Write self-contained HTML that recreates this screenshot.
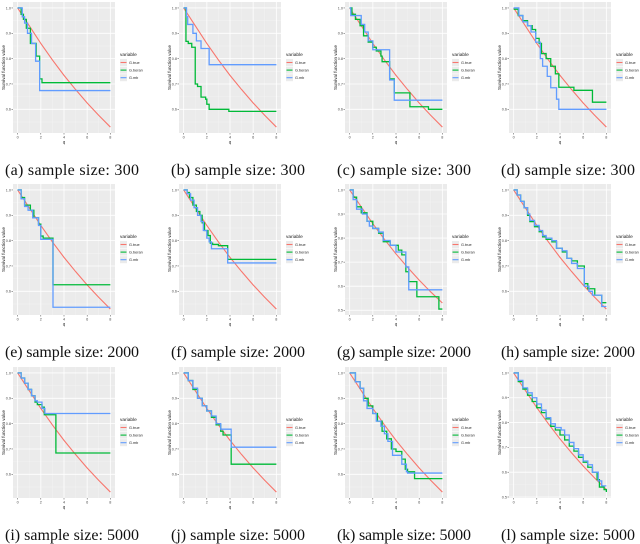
<!DOCTYPE html>
<html><head><meta charset="utf-8"><style>
html,body{margin:0;padding:0;background:#fff;}
svg{display:block;}
</style></head><body>
<svg id="fig" width="640" height="544" viewBox="0 0 640 544" xmlns="http://www.w3.org/2000/svg"></svg>
<script>
const panelLetters=['a','b','c','d','e','f','g','h','i','j','k','l'];
const sampleSizes=[300,300,300,300,2000,2000,2000,2000,5000,5000,5000,5000];
const trueTimes=[0,1,2,3,4,5,6,7,8];
const trueValues=[1.0,0.93,0.86,0.795,0.734,0.678,0.625,0.576,0.53];
const xTicks=[0,2,4,6,8];
const yTicks=[0.5,0.6,0.7,0.8,0.9,1.0];
const legendLabels=['G.true','G.beran','G.mb'];

const beranA=[[0,1],[0.3,0.975],[0.5,0.955],[0.75,0.92],[1.1,0.86],[1.6,0.81],[1.9,0.72],[2.1,0.705]];
const mbA=[[0,1],[0.4,0.965],[0.6,0.94],[0.85,0.9],[1.2,0.86],[1.55,0.79],[1.9,0.674]];
const beranB=[[0,1],[0.2,0.868],[0.4,0.86],[0.7,0.845],[1.0,0.7],[1.2,0.69],[1.5,0.648],[1.9,0.64],[2.0,0.62],[2.2,0.6],[3.9,0.592]];
const mbB=[[0,1],[0.25,0.965],[0.35,0.935],[0.8,0.9],[1.1,0.87],[1.5,0.84],[2.2,0.776]];
const beranC=[[0,1],[0.2,0.975],[0.5,0.955],[0.9,0.93],[1.2,0.89],[1.6,0.865],[2.0,0.845],[2.3,0.83],[2.7,0.81],[2.8,0.788],[3.45,0.72],[3.85,0.665],[5.2,0.61],[6.8,0.6]];
const mbC=[[0,1],[0.1,0.97],[1.0,0.935],[1.3,0.905],[1.6,0.87],[2.0,0.835],[3.45,0.716],[3.85,0.636]];
const beranD=[[0,0.995],[0.4,0.97],[0.8,0.95],[1.2,0.93],[1.6,0.915],[1.9,0.88],[2.2,0.86],[2.4,0.82],[2.8,0.8],[3.2,0.77],[3.6,0.74],[3.9,0.687],[5.2,0.675],[6.8,0.628]];
const mbD=[[0,1],[0.45,0.97],[0.8,0.945],[1.2,0.93],[1.5,0.905],[1.9,0.865],[2.3,0.8],[2.5,0.77],[2.9,0.73],[3.2,0.685],[3.7,0.64],[3.9,0.6]];
const beranE=[[0,1],[0.3,0.97],[0.6,0.94],[1.1,0.92],[1.4,0.89],[1.8,0.865],[2.0,0.818],[2.2,0.81],[3.05,0.626]];
const mbE=[[0,1],[0.3,0.965],[0.6,0.935],[0.9,0.92],[1.3,0.89],[1.8,0.86],[2.0,0.805],[3.05,0.537]];
const beranF=[[0,1],[0.3,0.99],[0.5,0.97],[0.8,0.94],[1.1,0.915],[1.4,0.9],[1.6,0.87],[1.8,0.84],[2.1,0.82],[2.3,0.79],[2.5,0.785],[3.0,0.78],[3.8,0.726]];
const mbF=[[0,1],[0.3,0.985],[0.6,0.96],[0.9,0.93],[1.2,0.9],[1.5,0.875],[1.7,0.84],[2.0,0.81],[2.2,0.795],[2.4,0.768],[3.8,0.712]];
const beranG=[[0,1],[0.3,0.97],[0.6,0.93],[1.0,0.905],[1.5,0.87],[2.0,0.84],[2.5,0.82],[2.9,0.785],[3.5,0.77],[4.2,0.75],[4.5,0.73],[4.85,0.66],[5.1,0.619],[5.8,0.556],[7.7,0.505]];
const mbG=[[0,1],[0.3,0.96],[0.6,0.92],[1.1,0.9],[1.5,0.87],[1.7,0.85],[2.0,0.84],[2.5,0.825],[2.9,0.79],[3.5,0.77],[4.0,0.742],[4.85,0.68],[5.1,0.585]];
const beranH=[[0,1],[0.3,0.98],[0.6,0.955],[0.9,0.93],[1.2,0.9],[1.4,0.875],[1.8,0.855],[2.2,0.835],[2.5,0.815],[2.8,0.805],[3.3,0.795],[3.7,0.77],[4.2,0.755],[4.6,0.73],[5.0,0.72],[5.5,0.7],[6.1,0.63],[6.4,0.61],[7.0,0.585],[7.6,0.555]];
const mbH=[[0,1],[0.3,0.98],[0.6,0.955],[0.9,0.93],[1.2,0.905],[1.4,0.88],[1.8,0.86],[2.2,0.84],[2.5,0.82],[2.8,0.81],[3.3,0.8],[3.7,0.77],[4.2,0.76],[4.6,0.73],[5.0,0.71],[5.5,0.69],[6.1,0.62],[6.5,0.6],[6.8,0.585],[7.6,0.54]];
const beranI=[[0,1],[0.3,0.98],[0.6,0.96],[0.9,0.935],[1.2,0.91],[1.5,0.885],[1.7,0.875],[2.1,0.865],[2.3,0.835],[3.3,0.684]];
const mbI=[[0,1],[0.3,0.98],[0.6,0.96],[0.9,0.935],[1.2,0.91],[1.5,0.89],[1.7,0.885],[2.1,0.86],[2.35,0.84]];
const beranJ=[[0,1],[0.4,0.97],[0.8,0.935],[1.2,0.9],[1.6,0.87],[2.0,0.85],[2.4,0.825],[2.8,0.795],[3.2,0.77],[3.4,0.755],[4.1,0.64]];
const mbJ=[[0,1],[0.4,0.97],[0.8,0.94],[1.2,0.9],[1.6,0.87],[2.0,0.85],[2.4,0.83],[2.8,0.8],[3.2,0.778],[4.1,0.707]];
const beranK=[[0,1],[0.5,0.965],[0.9,0.94],[1.2,0.9],[1.6,0.87],[2.0,0.84],[2.4,0.81],[2.8,0.77],[3.2,0.74],[3.6,0.7],[4.0,0.69],[4.5,0.66],[4.8,0.62],[5.0,0.61],[5.6,0.583]];
const mbK=[[0,1],[0.5,0.965],[0.9,0.94],[1.2,0.89],[1.5,0.86],[2.0,0.84],[2.3,0.81],[2.7,0.79],[3.0,0.76],[3.3,0.73],[3.7,0.675],[4.5,0.64],[4.9,0.61],[5.0,0.605]];
const beranL=[[0,1],[0.4,0.965],[0.8,0.935],[1.2,0.91],[1.6,0.885],[2.0,0.86],[2.4,0.84],[2.8,0.815],[3.2,0.785],[3.6,0.77],[4.0,0.75],[4.4,0.73],[4.8,0.705],[5.2,0.685],[5.6,0.66],[6.0,0.64],[6.4,0.62],[6.8,0.6],[7.2,0.57],[7.4,0.54],[7.8,0.53],[8.0,0.52]];
const mbL=[[0,1],[0.4,0.97],[0.8,0.94],[1.2,0.92],[1.6,0.9],[2.0,0.875],[2.4,0.85],[2.8,0.82],[3.2,0.795],[3.6,0.78],[4.1,0.77],[4.4,0.75],[4.8,0.72],[5.2,0.695],[5.6,0.67],[6.0,0.645],[6.4,0.63],[6.8,0.6],[7.3,0.565],[7.6,0.545]];
const beranSeries=[beranA,beranB,beranC,beranD,beranE,beranF,beranG,beranH,beranI,beranJ,beranK,beranL];
const mbSeries=[mbA,mbB,mbC,mbD,mbE,mbF,mbG,mbH,mbI,mbJ,mbK,mbL];

const NS='http://www.w3.org/2000/svg';
const svg=document.getElementById('fig');
const colX=[0,166,332,496], rowY=[0,182,365];
const RED='#F8766D', GREEN='#00BA38', BLUE='#619CFF';
function mk(tag,attrs,parent){const e=document.createElementNS(NS,tag);for(const k in attrs)e.setAttribute(k,attrs[k]);(parent||svg).appendChild(e);return e;}

panelLetters.forEach((letter,i)=>{
  const ox=colX[i%4], oy=rowY[Math.floor(i/4)];
  const g=mk('g',{});
  
  
  const beran=beranSeries[i], mb=mbSeries[i];
  let vals=trueValues.concat(beran.map(p=>p[1]),mb.map(p=>p[1]));
  const vmin=Math.min(...vals), vmax=Math.max(...vals), span=vmax-vmin;
  const lo=vmin-0.05*span, hi=vmax+0.05*span;
  const L=ox+13, R=ox+115, T=oy+2, B=oy+133;
  const xs=t=>L+(t+0.4)/8.8*(R-L);
  const ys=v=>T+(hi-v)/(hi-lo)*(B-T);
  const bg=mk('rect',{x:L,y:T,width:R-L,height:B-T,fill:'#EBEBEB'},g);
  
  
  // minor grid
  for(let t=1;t<8;t+=2) mk('line',{x1:xs(t),x2:xs(t),y1:T,y2:B,stroke:'#F5F5F5','stroke-width':0.4},g);
  for(let v=0.45;v<=1.05;v+=0.1){ if(v>lo&&v<hi) mk('line',{x1:L,x2:R,y1:ys(v),y2:ys(v),stroke:'#F5F5F5','stroke-width':0.4},g);}
  // major grid + ticks
  xTicks.forEach(t=>{
    mk('line',{x1:xs(t),x2:xs(t),y1:T,y2:B,stroke:'#fff','stroke-width':0.8},g);
    mk('line',{x1:xs(t),x2:xs(t),y1:B,y2:B+1.5,stroke:'#444','stroke-width':0.5},g);
    const tl=mk('text',{x:xs(t),y:B+5.5,'font-size':3.8,'text-anchor':'middle',fill:'#4d4d4d','font-family':'Liberation Sans, sans-serif'},g);
    tl.textContent=t;
    
    
  });
  yTicks.forEach(v=>{
    if(v<lo||v>hi) return;
    mk('line',{x1:L,x2:R,y1:ys(v),y2:ys(v),stroke:'#fff','stroke-width':0.8},g);
    mk('line',{x1:L-1.5,x2:L,y1:ys(v),y2:ys(v),stroke:'#444','stroke-width':0.5},g);
    const tl=mk('text',{x:L-2,y:ys(v)+1.3,'font-size':3.8,'text-anchor':'end',fill:'#4d4d4d','font-family':'Liberation Sans, sans-serif'},g);
    tl.textContent=v.toFixed(1);
    
    
  });
  const xt=mk('text',{x:(L+R)/2,y:B+10.5,'font-size':4.5,'text-anchor':'middle',fill:'#222','font-family':'Liberation Sans, sans-serif'},g);
  xt.textContent='q';
  
  
  const yt=mk('text',{x:0,y:0,'font-size':4.5,'text-anchor':'middle',fill:'#222','font-family':'Liberation Sans, sans-serif',transform:`translate(${ox+5},${(T+B)/2}) rotate(-90)`},g);
  yt.textContent='Survival function value';
  
  
  // true curve
  const tp=trueTimes.map((t,k)=>xs(t).toFixed(2)+','+ys(trueValues[k]).toFixed(2)).join(' ');
  const tl=mk('polyline',{points:tp,fill:'none',stroke:RED,'stroke-width':1.1},g);
  
  
  function step(data,color,name){
    let d='M'+xs(data[0][0]).toFixed(2)+' '+ys(data[0][1]).toFixed(2);
    for(let k=1;k<data.length;k++){d+=' H'+xs(data[k][0]).toFixed(2)+' V'+ys(data[k][1]).toFixed(2);}
    d+=' H'+xs(8).toFixed(2);
    const p=mk('path',{d:d,fill:'none',stroke:color,'stroke-width':1.3},g);
    
    
  }
  step(beran,GREEN,'g-beran-step');
  step(mb,BLUE,'g-mb-step');
  // legend
  const lg=mk('g',{},g);
  
  
  const lt=mk('text',{x:ox+120,y:oy+56,'font-size':4.8,fill:'#222','font-family':'Liberation Sans, sans-serif'},lg);
  lt.textContent='variable';
  
  
  [RED,GREEN,BLUE].forEach((c,k)=>{
    const y0=oy+59+k*7.6;
    mk('rect',{x:ox+120,y:y0,width:7,height:7,fill:'#EBEBEB'},lg);
    mk('line',{x1:ox+120.5,x2:ox+126.5,y1:y0+3.5,y2:y0+3.5,stroke:c,'stroke-width':1.1},lg);
    const e=mk('text',{x:ox+129,y:y0+5,'font-size':3.8,fill:'#222','font-family':'Liberation Sans, sans-serif'},lg);
    e.textContent=legendLabels[k];
    
    
  });
  const cap=mk('text',{x:ox+72,y:oy+175,'font-size':16,'text-anchor':'middle',fill:'#111','font-family':'Liberation Serif, serif',textLength:134,lengthAdjust:'spacing'},g);
  cap.textContent='('+letter+') sample size: '+sampleSizes[i];
  
  
});
</script>
</body></html>
